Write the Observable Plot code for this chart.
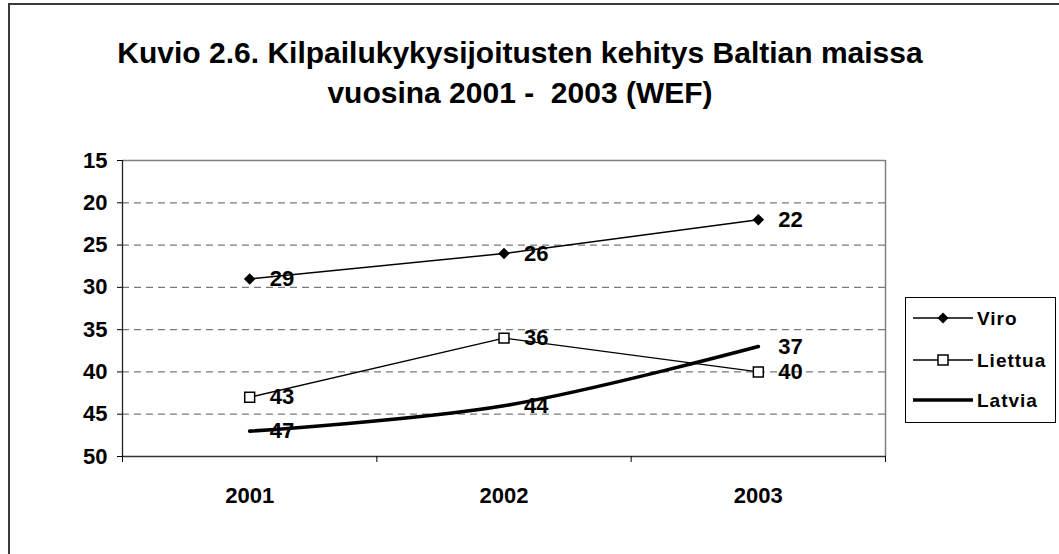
<!DOCTYPE html>
<html>
<head>
<meta charset="utf-8">
<script src="https://cdn.jsdelivr.net/npm/d3@7"></script>
<script src="https://cdn.jsdelivr.net/npm/@observablehq/plot@0.6"></script>
<style>
  html, body { margin: 0; padding: 0; background: #fff; }
  body { font-family: "Liberation Sans", Arial, sans-serif; }
  #wrap { position: relative; width: 1059px; height: 554px; overflow: hidden; }
  #frame { position: absolute; left: 8px; top: 3px; width: 1200px; height: 700px;
           border-left: 2px solid #3a3a3a; border-top: 2px solid #3a3a3a; pointer-events: none; }
  #title { position: relative; width: 1059px; height: 130px; }
  .tl { position: absolute; left: 0; width: 1040px; text-align: center; font-weight: bold;
        font-size: 30px; line-height: 30px; letter-spacing: 0px; color: #000; white-space: pre; }
  #legend { position: absolute; left: 905px; top: 297px; }
  #chart svg text { font-weight: bold; }
</style>
</head>
<body>
<div id="wrap">
  <div id="title">
    <div class="tl" style="top:38px">Kuvio 2.6. Kilpailukykysijoitusten kehitys Baltian maissa</div>
    <div class="tl" style="top:78px">vuosina 2001 -  2003 (WEF)</div>
  </div>
  <div id="chart"></div>
  <div id="legend"></div>
  <div id="frame"></div>
</div>
<script>
const years = ["2001", "2002", "2003"];
const viro = [29, 26, 22];
const liettua = [43, 36, 40];
const latvia = [47, 44, 37];
const seriesNames = ["Viro", "Liettua", "Latvia"];
const yTicks = [15, 20, 25, 30, 35, 40, 45, 50];
const gridValues = [20, 25, 30, 35, 40, 45];

const toRows = (name, vals) => vals.map((v, i) => ({series: name, i, year: years[i], v}));
const viroRows = toRows(seriesNames[0], viro);
const liettuaRows = toRows(seriesNames[1], liettua);
const latviaRows = toRows(seriesNames[2], latvia);
const allRows = [...viroRows, ...liettuaRows, ...latviaRows];
const bounds = years.map((_, i) => i - 0.5).concat([years.length - 0.5]);

const chart = Plot.plot({
  width: 1059,
  height: 424,
  marginTop: 30,
  marginBottom: 98,
  marginLeft: 122,
  marginRight: 174,
  style: {fontFamily: "'Liberation Sans', Arial, sans-serif", background: "transparent", color: "#000"},
  x: {type: "linear", domain: [-0.5, years.length - 0.5]},
  y: {domain: [15, 50], reverse: true},
  marks: [
    Plot.ruleY(gridValues, {stroke: "#7a7a7a", strokeWidth: 1.2, strokeDasharray: "7,5"}),
    Plot.ruleY([15], {stroke: "#808080", strokeWidth: 1.5}),
    Plot.ruleX([years.length - 0.5], {stroke: "#808080", strokeWidth: 1.5}),
    Plot.ruleX([-0.5], {stroke: "#222", strokeWidth: 1.3}),
    Plot.ruleY([50], {stroke: "#333", strokeWidth: 1.5}),
    Plot.axisY({ticks: yTicks, tickSize: 5, tickPadding: 10, fontSize: 22, label: null, tickFormat: d => String(d)}),
    Plot.axisX({ticks: bounds, tickSize: 6, tickFormat: () => "", label: null}),
    Plot.axisX({ticks: years.map((_, i) => i), tickSize: 0, tickPadding: 31, fontSize: 22, label: null, tickFormat: i => years[i]}),
    Plot.line(viroRows, {x: "i", y: "v", stroke: "#000", strokeWidth: 1.5}),
    Plot.line(liettuaRows, {x: "i", y: "v", stroke: "#000", strokeWidth: 1.3}),
    Plot.line(latviaRows, {x: "i", y: "v", stroke: "#000", strokeWidth: 3.6, curve: "catmull-rom"}),
    Plot.dot(viroRows, {x: "i", y: "v", symbol: "square", rotate: 45, r: 4.6, fill: "#000", stroke: "none"}),
    Plot.dot(liettuaRows, {x: "i", y: "v", symbol: "square", r: 5.6, fill: "#fff", stroke: "#000", strokeWidth: 1.5}),
    Plot.text(allRows, {x: "i", y: "v", text: d => String(d.v), dx: 20, textAnchor: "start", lineAnchor: "middle",
      fontSize: 22, fill: "#000"})
  ]
});
document.getElementById("chart").appendChild(chart);

// legend
const lg = d3.select("#legend").append("svg").attr("width", 152).attr("height", 127)
  .style("font-family", "'Liberation Sans', Arial, sans-serif");
lg.append("rect").attr("x", 0.5).attr("y", 0.5).attr("width", 150).attr("height", 125)
  .attr("fill", "#fff").attr("stroke", "#000").attr("stroke-width", 1);
const ly = [21, 63, 103];
seriesNames.forEach((name, k) => {
  const g = lg.append("g").attr("transform", `translate(0,${ly[k]})`);
  g.append("line").attr("x1", 8).attr("x2", 68).attr("y1", 0).attr("y2", 0)
    .attr("stroke", "#000").attr("stroke-width", k === 2 ? 3.6 : 1.5);
  if (k === 0) g.append("path").attr("d", "M38,-5.5L43.5,0L38,5.5L32.5,0Z").attr("fill", "#000");
  if (k === 1) g.append("rect").attr("x", 33).attr("y", -5).attr("width", 10).attr("height", 10)
    .attr("fill", "#fff").attr("stroke", "#000").attr("stroke-width", 1.5);
  g.append("text").attr("x", 72).attr("y", 0).attr("dy", "0.35em").attr("font-size", 19)
    .attr("font-weight", "bold").attr("letter-spacing", "1px").text(name);
});
</script>
</body>
</html>
